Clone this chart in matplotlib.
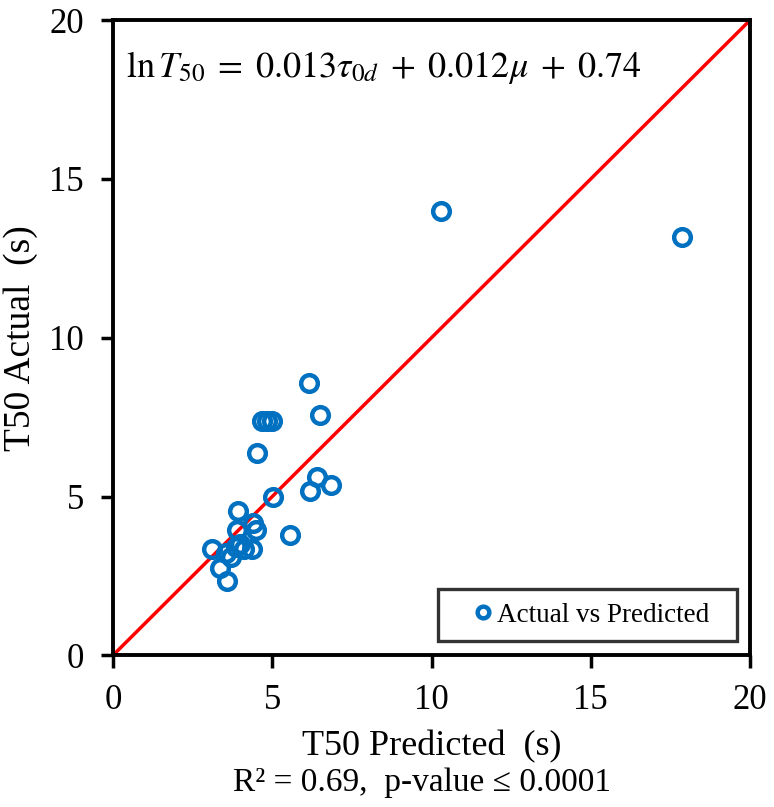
import matplotlib
matplotlib.use('Agg')
import matplotlib.pyplot as plt

plt.rcParams['font.family'] = ['Liberation Serif', 'DejaVu Serif']
plt.rcParams['mathtext.fontset'] = 'stix'

# predicted vs actual T50 (s)
t50_predicted = [3.12, 3.35, 3.58, 3.55, 3.70, 3.85, 4.00, 4.10, 4.35, 3.90, 3.92,
                 4.40, 4.50, 5.55, 5.03, 6.20, 6.42, 6.85, 4.52, 4.68, 4.84, 5.00,
                 6.50, 6.15, 10.30, 17.87]
t50_actual = [3.35, 2.75, 2.33, 3.22, 3.10, 3.40, 3.50, 3.35, 3.35, 3.95, 4.55,
              4.15, 3.95, 3.78, 5.00, 5.17, 5.60, 5.35, 6.38, 7.37, 7.37, 7.37,
              7.57, 8.57, 14.00, 13.17]
diag = [0, 20]
ticks = [0, 5, 10, 15, 20]

fig = plt.figure(figsize=(7.74, 8.07), dpi=100)
ax = fig.add_axes([0.146, 0.188, 0.823, 0.787])

ax.plot(diag, diag, color='#FF0000', linewidth=2.5, zorder=2)
ax.plot(t50_predicted, t50_actual, linestyle='none', marker='o', ms=12,
        markerfacecolor='none', markeredgecolor='#0070C0', markeredgewidth=3.2,
        label='Actual vs Predicted', zorder=3, clip_on=False)

ax.set_xlim(0, 20)
ax.set_ylim(0, 20)
ax.set_xticks(ticks)
ax.set_yticks(ticks)
ax.tick_params(direction='out', length=9, width=2.5, labelsize=25, pad=12)
for s in ax.spines.values():
    s.set_linewidth(2.8)

ax.set_xlabel('T50 Predicted  (s)', fontsize=26, labelpad=9)
ax.set_ylabel('T50 Actual  (s)', fontsize=27, labelpad=8)
fig.text(0.545, 0.030, 'R\u00b2 = 0.69,  p-value \u2264 0.0001', fontsize=24,
         ha='center', va='center')

ax.text(0.02, 0.925, r'$\ln T_{50}\;=\;0.013\tau_{0d}\;+\;0.012\mu\;+\;0.74$',
        transform=ax.transAxes, fontsize=26, va='center', ha='left')

leg = ax.legend(loc='lower left', mode='expand', fontsize=19.5, frameon=True,
                fancybox=False, markerscale=0.7, handlelength=2.33,
                handletextpad=-0.65, borderpad=0.5,
                bbox_to_anchor=(0.510, 0.022, 0.469, 0), borderaxespad=0)
leg.get_frame().set_edgecolor('black')
leg.get_frame().set_linewidth(2.4)

fig.savefig('out.png', dpi=100)
